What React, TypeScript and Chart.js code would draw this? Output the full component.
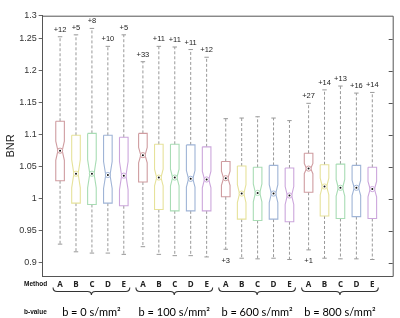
import React, { useEffect, useRef } from 'react';
import { Chart, registerables } from 'chart.js';

Chart.register(...registerables);

const methods = ['A', 'B', 'C', 'D', 'E'];
const groupLabels = ['b = 0 s/mm²', 'b = 100 s/mm²', 'b = 600 s/mm²', 'b = 800 s/mm²'];
const positions = [1, 2, 3, 4, 5, 6.2, 7.2, 8.2, 9.2, 10.2, 11.4, 12.4, 13.4, 14.4, 15.4, 16.6, 17.6, 18.6, 19.6, 20.6];
const upperWhisker = [1.253, 1.256, 1.266, 1.238, 1.256, 1.214, 1.238, 1.237, 1.233, 1.221, 1.125, 1.126, 1.128, 1.126, 1.122, 1.149, 1.170, 1.176, 1.165, 1.166];
const q3 = [1.121, 1.099, 1.102, 1.099, 1.096, 1.102, 1.085, 1.085, 1.084, 1.081, 1.058, 1.051, 1.049, 1.052, 1.048, 1.071, 1.053, 1.054, 1.052, 1.049];
const median = [1.075, 1.039, 1.039, 1.037, 1.036, 1.068, 1.033, 1.033, 1.031, 1.030, 1.032, 1.008, 1.009, 1.008, 1.005, 1.047, 1.019, 1.017, 1.017, 1.015];
const q1 = [1.028, 0.993, 0.991, 0.993, 0.989, 1.026, 0.983, 0.981, 0.981, 0.981, 1.003, 0.968, 0.966, 0.968, 0.964, 1.010, 0.973, 0.969, 0.972, 0.969];
const lowerWhisker = [0.929, 0.917, 0.915, 0.915, 0.913, 0.925, 0.913, 0.911, 0.911, 0.909, 0.921, 0.907, 0.906, 0.907, 0.905, 0.920, 0.907, 0.906, 0.906, 0.905];
const notchHalf = [0.015, 0.022, 0.022, 0.021, 0.022, 0.012, 0.013, 0.013, 0.013, 0.013, 0.011, 0.014, 0.014, 0.014, 0.014, 0.008, 0.013, 0.013, 0.012, 0.012];
const upperOutliers = ['+12', '+5', '+8', '+10', '+5', '+33', '+11', '+11', '+11', '+12', '', '', '', '', '', '+27', '+14', '+13', '+16', '+14'];
const lowerOutliers = ['', '', '', '', '', '', '', '', '', '', '+3', '', '', '', '', '+1', '', '', '', ''];
const yTicks = [0.9, 0.95, 1, 1.05, 1.1, 1.15, 1.2, 1.25];
const methodColors = ['#cf9ca0', '#e6e29a', '#a8dcb4', '#9fb4d6', '#cca6dc'];

const Y_MIN = 0.8792;
const Y_MAX = 1.2859;
const HW = 0.27; // box half width (x units)
const CAP = 0.14;

function boxOutline(i: number) {
  const x = positions[i];
  const hi = median[i] + notchHalf[i];
  const lo = median[i] - notchHalf[i];
  return [
    { x: x - HW, y: q3[i] },
    { x: x - HW, y: hi },
    { x: x - HW / 2, y: median[i] },
    { x: x - HW, y: lo },
    { x: x - HW, y: q1[i] },
    { x: x + HW, y: q1[i] },
    { x: x + HW, y: lo },
    { x: x + HW / 2, y: median[i] },
    { x: x + HW, y: hi },
    { x: x + HW, y: q3[i] },
    { x: x - HW, y: q3[i] },
  ];
}

const annotPlugin = {
  id: 'annot',
  afterDraw(chart: any) {
    const { ctx, chartArea } = chart;
    const xs = chart.scales.x;
    const ys = chart.scales.y;
    const { left, right, top, bottom } = chartArea;
    ctx.save();
    ctx.strokeStyle = '#555';
    ctx.lineWidth = 1;
    ctx.beginPath();
    ctx.moveTo(left, top + 0.5);
    ctx.lineTo(right + 0.5, top + 0.5);
    ctx.lineTo(right + 0.5, bottom + 0.5);
    ctx.lineTo(left, bottom + 0.5);
    ctx.stroke();
    ctx.beginPath();
    for (const v of yTicks) {
      const py = Math.round(ys.getPixelForValue(v)) + 0.5;
      ctx.moveTo(right - 4, py);
      ctx.lineTo(right, py);
    }
    ctx.stroke();

    ctx.fillStyle = '#222';
    ctx.font = '7.5px "Liberation Sans"';
    ctx.textAlign = 'center';
    for (let i = 0; i < positions.length; i++) {
      const px = xs.getPixelForValue(positions[i]);
      if (upperOutliers[i]) {
        ctx.textBaseline = 'alphabetic';
        ctx.fillText(upperOutliers[i], px, ys.getPixelForValue(upperWhisker[i]) - 5);
      }
      if (lowerOutliers[i]) {
        ctx.textBaseline = 'middle';
        ctx.fillText(lowerOutliers[i], px, ys.getPixelForValue(lowerWhisker[i]) + 11.5);
      }
    }

    ctx.fillStyle = '#111';
    ctx.textBaseline = 'middle';
    ctx.textAlign = 'left';
    ctx.font = 'bold 6.5px "Liberation Sans"';
    ctx.fillText('Method', 24, 284.5);
    ctx.fillText('b-value', 24, 312.5);

    ctx.textAlign = 'center';
    ctx.font = 'bold 8px "Open Sans"';
    ctx.fillStyle = '#222';
    for (let i = 0; i < positions.length; i++) {
      ctx.fillText(methods[i % 5], xs.getPixelForValue(positions[i]), 284.5);
    }

    ctx.strokeStyle = '#333';
    ctx.lineWidth = 1.1;
    for (let g = 0; g < groupLabels.length; g++) {
      const xa = xs.getPixelForValue(positions[g * 5]);
      const xe = xs.getPixelForValue(positions[g * 5 + 4]);
      const l = xa - 7;
      const r = xe + 6;
      const m = (l + r) / 2;
      const y0 = 287.5, y1 = 291.5, y2 = 295;
      ctx.beginPath();
      ctx.moveTo(l, y0);
      ctx.quadraticCurveTo(l, y1, l + 4, y1);
      ctx.lineTo(m - 4, y1);
      ctx.quadraticCurveTo(m, y1, m, y2);
      ctx.quadraticCurveTo(m, y1, m + 4, y1);
      ctx.lineTo(r - 4, y1);
      ctx.quadraticCurveTo(r, y1, r, y0);
      ctx.stroke();
      ctx.fillStyle = '#000';
      ctx.font = '11px Lato';
      ctx.fillText(groupLabels[g], m, 312);
    }
    ctx.restore();
  },
};

export default function App() {
  const ref = useRef<HTMLCanvasElement | null>(null);
  useEffect(() => {
    if (!ref.current) return;
    const datasets: any[] = [];
    const colorsPer = positions.map((_, i) => methodColors[i % 5]);
    datasets.push({
      data: positions.map((x, i) => ({ x, y: median[i] })),
      showLine: false,
      pointRadius: 1,
      pointBackgroundColor: '#111',
      pointBorderWidth: 0,
    });
    datasets.push({
      data: positions.map((x, i) => ({ x, y: median[i] })),
      showLine: false,
      pointRadius: 2.6,
      pointBackgroundColor: '#fff',
      pointBorderColor: colorsPer,
      pointBorderWidth: 1,
    });
    for (let i = 0; i < positions.length; i++) {
      datasets.push({
        data: boxOutline(i),
        showLine: true,
        borderColor: colorsPer[i],
        borderWidth: 1.1,
        pointRadius: 0,
        tension: 0,
        fill: false,
      });
    }
    for (let i = 0; i < positions.length; i++) {
      const x = positions[i];
      datasets.push({
        data: [{ x, y: q3[i] }, { x, y: upperWhisker[i] }],
        showLine: true, borderColor: '#999', borderWidth: 1, borderDash: [3, 2], pointRadius: 0,
      });
      datasets.push({
        data: [{ x, y: q1[i] }, { x, y: lowerWhisker[i] }],
        showLine: true, borderColor: '#999', borderWidth: 1, borderDash: [3, 2], pointRadius: 0,
      });
      datasets.push({
        data: [{ x: x - CAP, y: upperWhisker[i] }, { x: x + CAP, y: upperWhisker[i] }],
        showLine: true, borderColor: '#999', borderWidth: 1, pointRadius: 0,
      });
      datasets.push({
        data: [{ x: x - CAP, y: lowerWhisker[i] }, { x: x + CAP, y: lowerWhisker[i] }],
        showLine: true, borderColor: '#999', borderWidth: 1, pointRadius: 0,
      });
    }
    const chart = new Chart(ref.current, {
      type: 'scatter',
      data: { datasets },
      options: {
        animation: false,
        responsive: false,
        maintainAspectRatio: false,
        layout: { padding: { left: 0, right: 7.3, top: 15.7, bottom: 42 } },
        plugins: { legend: { display: false }, tooltip: { enabled: false } },
        scales: {
          x: { type: 'linear', min: -0.09, max: 21.88, display: false },
          y: {
            type: 'linear',
            min: Y_MIN,
            max: Y_MAX,
            afterFit: (s: any) => { s.width = 42.7; },
            afterBuildTicks: (s: any) => { s.ticks = [...yTicks, Y_MAX].map((v) => ({ value: v })); },
            ticks: {
              callback: (v: any) => (v > 1.27 ? '1.3' : String(Number(Number(v).toFixed(2)))),
              font: { family: 'Liberation Sans', size: 9 },
              color: '#333',
              padding: 2,
            },
            grid: { drawOnChartArea: false, tickLength: 4, color: '#666' },
            border: { color: '#555' },
            title: { display: true, text: 'BNR', font: { family: 'Liberation Sans', size: 11 }, color: '#222', padding: { top: 4, bottom: 0 } },
          },
        },
      },
      plugins: [annotPlugin],
    } as any);
    return () => chart.destroy();
  }, []);
  return (
    <div style={{ position: 'fixed', left: 0, top: 0, width: 400, height: 318, background: '#fff' }}>
      <canvas ref={ref} width={400} height={318} style={{ width: 400, height: 318, display: 'block' }} />
    </div>
  );
}
